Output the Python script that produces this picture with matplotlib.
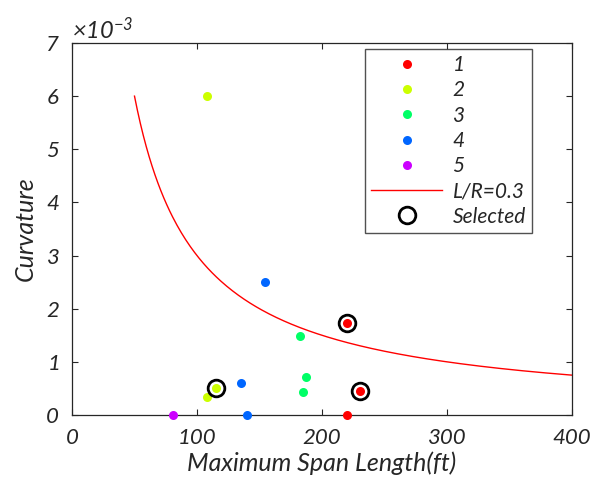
import numpy as np
import matplotlib
matplotlib.use("Agg")
from matplotlib import pyplot as plt

# span length (ft) and curvature per group
g1_x = [220, 230, 220]
g1_y = [0.00174, 0.00045, 0.0]
g2_x = [108, 115, 108]
g2_y = [0.0060, 0.00051, 0.00034]
g3_x = [182, 187, 185]
g3_y = [0.00149, 0.00071, 0.00043]
g4_x = [154, 135, 140]
g4_y = [0.00250, 0.00061, 0.0]
g5_x = [81]
g5_y = [0.0]

sel_x = [220, 230, 115]
sel_y = [0.00174, 0.00045, 0.00051]

LR = 0.3
span = np.linspace(50, 400, 300)

groups = [(g1_x, g1_y, "1"), (g2_x, g2_y, "2"), (g3_x, g3_y, "3"),
          (g4_x, g4_y, "4"), (g5_x, g5_y, "5")]
colors = [(1, 0, 0), (0.8, 1, 0), (0, 1, 0.4), (0, 0.4, 1), (0.8, 0, 1)]

plt.rcParams['font.family'] = ['Lato', 'DejaVu Sans']
plt.rcParams['font.style'] = 'italic'
plt.rcParams['mathtext.fontset'] = 'custom'
plt.rcParams['mathtext.it'] = 'Lato:italic'
plt.rcParams['mathtext.rm'] = 'Lato:italic'
txt = '#262626'

fig = plt.figure(figsize=(5.94, 4.86), dpi=100)
ax = fig.add_axes([72/594, 1-415/486, 500/594, 372/486])

for (gx, gy, name), c in zip(groups, colors):
    ax.plot(gx, gy, 'o', color=c, ms=6.5, mec='none', label=name, clip_on=False, zorder=3)
ax.plot(span, LR/span, '-', color='red', lw=1, label='L/R=0.3')
ax.plot(sel_x, sel_y, 'o', mfc='none', mec='black', mew=2, ms=12, label='Selected', zorder=4)

ax.set_xlim(0, 400)
ax.set_ylim(0, 0.007)
ax.set_xticks([0, 100, 200, 300, 400])
ax.set_yticks(np.arange(0, 0.0071, 0.001))
ax.ticklabel_format(axis='y', style='sci', scilimits=(-3, -3), useMathText=True)
ax.yaxis.get_offset_text().set_fontsize(17)
ax.yaxis.get_offset_text().set_color(txt)

ax.tick_params(direction='in', top=True, right=True, labelsize=16, colors=txt, length=4, pad=9)
for s in ax.spines.values():
    s.set_color(txt)
    s.set_linewidth(0.9)

ax.set_xlabel('Maximum Span Length(ft)', fontsize=18, color=txt, labelpad=3)
ax.set_ylabel('Curvature', fontsize=18, color=txt, labelpad=6)

leg = ax.legend(loc='upper right', bbox_to_anchor=(460/500, 1-6/372), fontsize=15,
                frameon=True, fancybox=False, edgecolor=txt, handlelength=3.4,
                borderpad=0.3, labelspacing=0.25, handletextpad=0.5, borderaxespad=0)
leg.get_frame().set_linewidth(1)
for t in leg.get_texts():
    t.set_color(txt)

fig.savefig('out.png', dpi=100)
